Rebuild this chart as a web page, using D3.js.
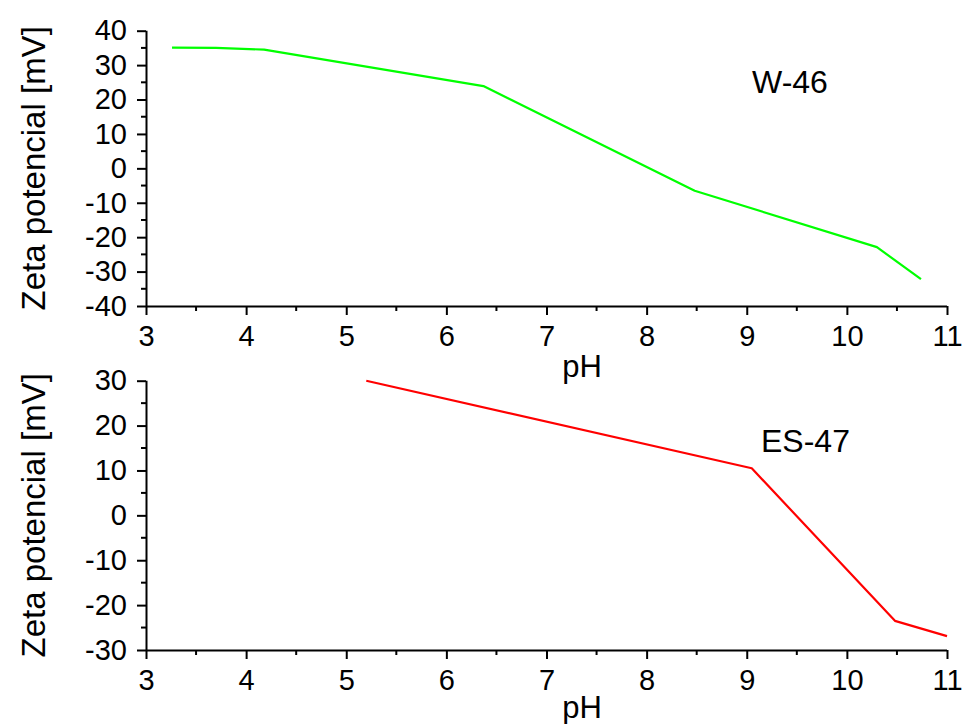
<!DOCTYPE html>
<html><head><meta charset="utf-8">
<script src="https://cdn.jsdelivr.net/npm/d3@7"></script>
<style>
body{margin:0;background:#fff;}
svg{display:block;font-family:"Liberation Sans",Arial,sans-serif;}
</style></head>
<body><svg id="c" width="964" height="724"></svg>
<script>
// ---- data ----
const phW46 = [3.26, 3.7, 4.18, 6.37, 8.48, 10.3, 10.74];
const zetaW46 = [35.1, 35.0, 34.5, 23.9, -6.5, -22.9, -32.2];
const phES47 = [5.20, 9.05, 10.48, 11.0];
const zetaES47 = [30.0, 10.5, -23.5, -26.9];
const xTicks = [3, 4, 5, 6, 7, 8, 9, 10, 11];
const yTicksTop = [40, 30, 20, 10, 0, -10, -20, -30, -40];
const yTicksBottom = [30, 20, 10, 0, -10, -20, -30];
const panelLabels = ["W-46", "ES-47"];
const xTitle = "pH";
const yTitle = "Zeta potencial [mV]";

const svg = d3.select("#c");

function panel(cfg) {
  const x = d3.scaleLinear().domain([3, 11]).range([146, 947]);
  const y = d3.scaleLinear().domain(cfg.ydom).range(cfg.yrange);
  const g = svg.append("g");

  // minor ticks
  const xMinor = d3.range(3.5, 11, 1);
  g.append("g").selectAll("line").data(xMinor).join("line")
    .attr("x1", d => x(d)).attr("x2", d => x(d))
    .attr("y1", y.range()[0]).attr("y2", y.range()[0] + 5)
    .attr("stroke", "#000").attr("stroke-width", 2);
  const yMinor = d3.range(cfg.ydom[0] + 5, cfg.ydom[1], 10);
  g.append("g").selectAll("line").data(yMinor).join("line")
    .attr("x1", 146).attr("x2", 141)
    .attr("y1", d => y(d)).attr("y2", d => y(d))
    .attr("stroke", "#000").attr("stroke-width", 2);

  const xAxis = d3.axisBottom(x).tickValues(xTicks).tickFormat(d3.format("d"))
    .tickSize(9).tickPadding(10);
  const gx = g.append("g").attr("transform", `translate(0,${y.range()[0]})`).call(xAxis);
  const yAxis = d3.axisLeft(y).tickValues(cfg.yticks).tickFormat(d => d < 0 ? "-" + Math.abs(d) : d)
    .tickSize(9).tickPadding(10);
  const gy = g.append("g").attr("transform", "translate(146,0)").call(yAxis);
  [gx, gy].forEach(a => {
    a.attr("font-size", 29).attr("font-family", "Liberation Sans, Arial, sans-serif");
    a.select(".domain").attr("stroke", "#000").attr("stroke-width", 2);
    a.selectAll(".tick line").attr("stroke", "#000").attr("stroke-width", 2);
    a.selectAll(".tick text").attr("fill", "#000").style("font-size", "29px");
  });
  gy.select(".domain").attr("d", `M0.5,${y.range()[0]}V${y.range()[1]}`);
  gx.select(".domain").attr("d", `M146,0.5H947`);

  const pts = cfg.xs.map((d, i) => [d, cfg.ys[i]]);
  g.append("path").datum(pts)
    .attr("d", d3.line().x(d => x(d[0])).y(d => y(d[1])))
    .attr("fill", "none").attr("stroke", cfg.color).attr("stroke-width", 2.2)
    .attr("stroke-linejoin", "round");

  g.append("text").attr("x", cfg.labelPos[0]).attr("y", cfg.labelPos[1])
    .attr("font-size", 32).attr("fill", "#000").text(cfg.label);

  g.append("text").attr("x", 582).attr("y", cfg.xTitleY)
    .attr("text-anchor", "middle").attr("font-size", 31).attr("fill", "#000").text(xTitle);

  const cy = (y.range()[0] + y.range()[1]) / 2;
  g.append("text").attr("transform", `translate(45,${cy}) rotate(-90)`)
    .attr("text-anchor", "middle").attr("font-size", 33).attr("fill", "#000").text(yTitle);
}

panel({ ydom: [-40, 40], yrange: [306, 30.7], yticks: yTicksTop, xs: phW46, ys: zetaW46,
  color: "#00ff00", label: panelLabels[0], labelPos: [752, 93], xTitleY: 377 });
panel({ ydom: [-30, 30], yrange: [650, 380.7], yticks: yTicksBottom, xs: phES47, ys: zetaES47,
  color: "#ff0000", label: panelLabels[1], labelPos: [761, 452], xTitleY: 718 });
</script></body></html>
